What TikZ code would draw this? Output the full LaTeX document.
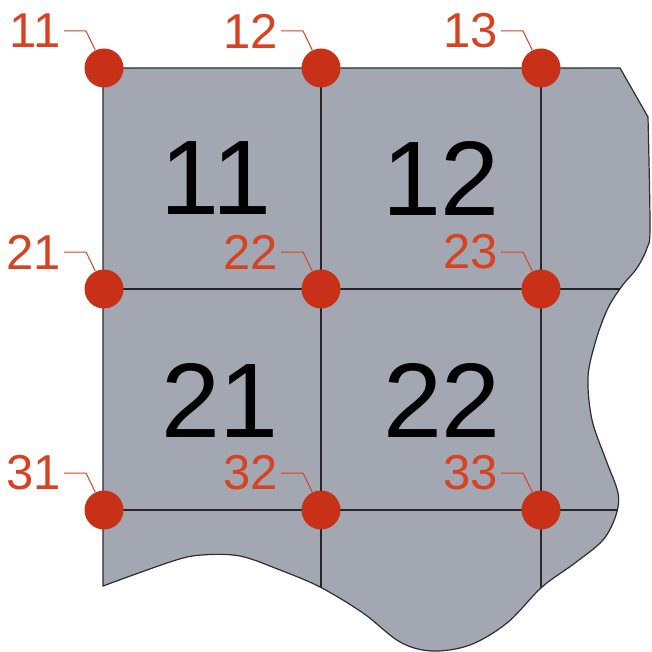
\documentclass[tikz,border=0pt]{standalone}
\usepackage{fontspec}
\setmainfont{Liberation Sans}
\usepackage{tikz}
\usetikzlibrary{calc}
\usepackage{xcolor}

\definecolor{plategray}{RGB}{163,167,177}
\definecolor{edgegray}{RGB}{45,45,50}
\definecolor{dotred}{RGB}{201,48,24}
\definecolor{labelred}{RGB}{214,66,34}

\tikzset{
  node dot/.style={circle, fill=dotred, inner sep=0pt, minimum size=19.5pt},
  node label/.style={text=labelred, font=\fontsize{24.5}{24.5}\selectfont,
    inner xsep=1.5pt, inner ysep=0pt, anchor=east},
  leader/.style={draw=labelred, line width=0.5pt},
  cell label/.style={font=\fontsize{53}{53}\selectfont, inner sep=0pt},
  grid line/.style={draw=black!85, line width=0.7pt}
}

\def\PlateOutline{(103,68) -- (620,68)
  -- plot[smooth, tension=0.55] coordinates {
    (648,117) (650,227) (647,248) (637,268) (622,286) (608,308)
    (596,340) (588,377) (592,420) (606,460) (618,493) (616,515)
    (603,540) (575,563) (542,587) (507,623) (470,645) (432,651)
    (400,642) (363,613) (320,587) (280,570) (240,556) (202,555)
    (173,561) (103,586)}
  -- cycle}

\begin{document}
\begin{tikzpicture}[x=0.5pt, y=-0.5pt]
    \useasboundingbox (0,0) rectangle (652,652);

    % Plate
    \fill[plategray] \PlateOutline;

    % Grid lines, cut to the plate
    \begin{scope}
      \clip \PlateOutline;
      \foreach \x in {321,541}
        \draw[grid line] (\x,60) -- (\x,660);
      \foreach \y in {289,510}
        \draw[grid line] (95,\y) -- (660,\y);
    \end{scope}
    \draw[edgegray, line width=0.6pt] \PlateOutline;

    % Cell numbers
    \foreach \txt/\x/\y in {11/216/178, 12/441/178, 21/220/400, 22/442/400}
      \node[cell label] (c\txt) at (\x,\y) {\txt};

    % Node points: row/y, column/x
    \foreach \r/\y in {1/68, 2/289, 3/510} {
      \foreach \c/\x in {1/104, 2/321, 3/541} {
        \node[node dot] (p\r\c) at (\x,\y) {};
        \node[node label] (l\r\c) at (\x-40,\y-37) {\r\c};
        \coordinate (k\r\c) at (\x-18,\y-37);
        \draw[leader] (l\r\c) -- (k\r\c) -- (p\r\c);
      }
    }
\end{tikzpicture}
\end{document}
